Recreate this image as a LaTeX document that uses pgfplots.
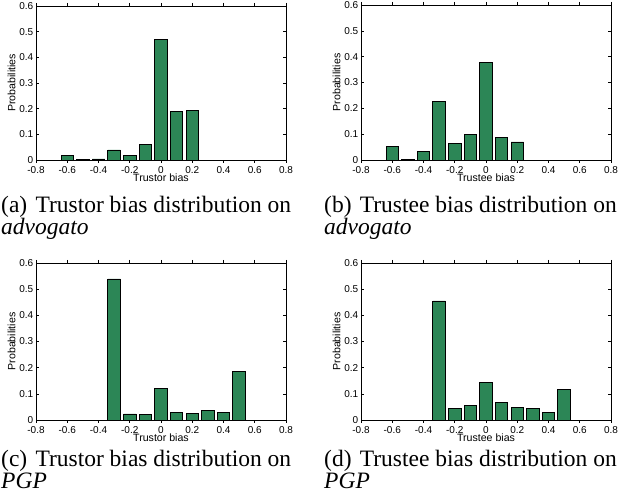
\documentclass[border=0pt]{standalone}
\usepackage{fontspec}
\setmainfont{Liberation Serif}
\newfontfamily\sansf{Liberation Sans}
\usepackage{pgfplots}
\pgfplotsset{compat=1.18}
\definecolor{bargreen}{RGB}{44,134,86}
\pgfplotsset{
  hist/.style={
    scale only axis,
    width=250pt,
    xmin=-0.8, xmax=0.8, ymin=0, ymax=0.6,
    xtick={-0.8,-0.6,-0.4,-0.2,0,0.2,0.4,0.6,0.8},
    xticklabels={-0.8,-0.6,-0.4,-0.2,0,0.2,0.4,0.6,0.8},
    ytick={0,0.1,0.2,0.3,0.4,0.5,0.6},
    yticklabels={0,0.1,0.2,0.3,0.4,0.5,0.6},
    tick pos=both, tick align=inside,
    major tick length=3pt,
    every tick/.style={black, line width=0.6pt},
    axis line style={line width=0.8pt},
    xticklabel style={font=\sansf\fontsize{10}{11}\selectfont, anchor=base, inner sep=0pt, yshift=-10.7pt},
    yticklabel style={font=\sansf\fontsize{10}{11}\selectfont, anchor=east, inner sep=0pt, xshift=-2.5pt},
    every axis x label/.style={at={(axis description cs:0.5,0)}, anchor=base, inner sep=0pt, yshift=-21.5pt, font=\sansf\fontsize{10.6}{12}\selectfont},
    every axis y label/.style={at={(axis description cs:-0.098,0.5)}, rotate=90, anchor=center, inner sep=0pt, font=\sansf\fontsize{10.6}{12}\selectfont},
    ylabel={Probabilities},
    ybar, bar width=0.08, bar shift=0pt,
  },
  bars/.style={fill=bargreen, draw=black, line width=0.8pt},
}
\begin{document}
\begin{tikzpicture}[x=1pt,y=1pt]
\useasboundingbox (0,0) rectangle (618,502);
% (a)
\begin{axis}[hist, height=154pt, at={(36pt,342pt)}, anchor=south west, xlabel={Trustor bias}]
\addplot[bars] coordinates {(-0.6,0.019) (-0.5,0.003) (-0.4,0.004) (-0.3,0.039) (-0.2,0.019) (-0.1,0.062) (0,0.470) (0.1,0.189) (0.2,0.193)};
\end{axis}
% (b)
\begin{axis}[hist, height=155pt, at={(361pt,342pt)}, anchor=south west, xlabel={Trustee bias}]
\addplot[bars] coordinates {(-0.6,0.052) (-0.5,0.003) (-0.4,0.032) (-0.3,0.227) (-0.2,0.064) (-0.1,0.099) (0,0.376) (0.1,0.086) (0.2,0.070)};
\end{axis}
% (c)
\begin{axis}[hist, height=157pt, at={(36pt,82pt)}, anchor=south west, xlabel={Trustor bias}]
\addplot[bars] coordinates {(-0.3,0.539) (-0.2,0.023) (-0.1,0.022) (0,0.120) (0.1,0.029) (0.2,0.026) (0.3,0.036) (0.4,0.029) (0.5,0.185)};
\end{axis}
% (d)
\begin{axis}[hist, height=157pt, at={(361pt,82pt)}, anchor=south west, xlabel={Trustee bias}]
\addplot[bars] coordinates {(-0.3,0.455) (-0.2,0.043) (-0.1,0.056) (0,0.143) (0.1,0.067) (0.2,0.047) (0.3,0.045) (0.4,0.028) (0.5,0.118)};
\end{axis}
% captions
\begin{scope}[every node/.style={anchor=base west, inner sep=0pt, font=\fontsize{23.5}{21.5}\selectfont}]
\node at (1,289) {(a)\hspace{0.35em}Trustor bias distribution on};
\node at (1,267.5) {\itshape advogato};
\node at (324,289) {(b)\hspace{0.35em}Trustee bias distribution on};
\node at (324,267.5) {\itshape advogato};
\node at (1,35) {(c)\hspace{0.35em}Trustor bias distribution on};
\node at (1,13.5) {\itshape PGP};
\node at (324,35) {(d)\hspace{0.35em}Trustee bias distribution on};
\node at (324,13.5) {\itshape PGP};
\end{scope}
\end{tikzpicture}
\end{document}
